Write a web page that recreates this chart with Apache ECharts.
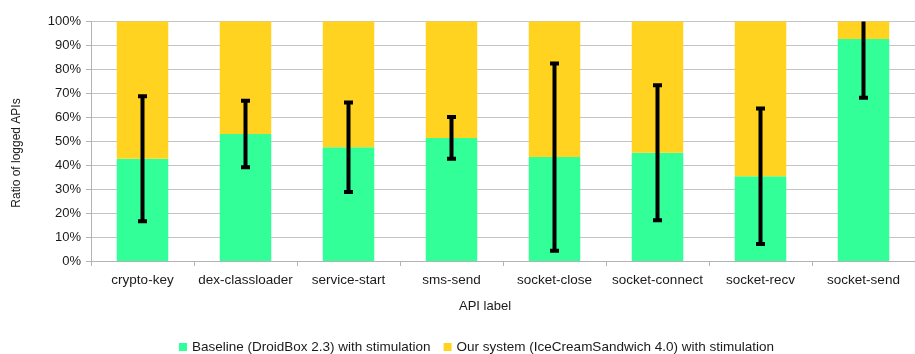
<!DOCTYPE html>
<html>
<head>
<meta charset="utf-8">
<script src="https://cdn.jsdelivr.net/npm/echarts@6/dist/echarts.min.js"></script>
<style>
  html, body { margin: 0; padding: 0; background: #fff; }
  #chart { width: 915px; height: 354px; }
</style>
</head>
<body>
<div id="chart"></div>
<script>
// API labels on the category axis
const apiLabels = ['crypto-key', 'dex-classloader', 'service-start', 'sms-send',
  'socket-close', 'socket-connect', 'socket-recv', 'socket-send'];

// Share of logged APIs (%) per system
const baseline = [42.7, 53.0, 47.5, 51.4, 43.4, 45.2, 35.4, 92.7];
const ourSystem = [57.3, 47.0, 52.5, 48.6, 56.6, 54.8, 64.6, 7.3];

// Half-width of the error bar around the baseline share (%)
const errorHalf = [26.1, 13.9, 18.7, 8.7, 39.1, 28.2, 28.3, 24.5];

// Y axis ticks
const yTicks = [0, 10, 20, 30, 40, 50, 60, 70, 80, 90, 100];

const seriesNames = ['Baseline (DroidBox 2.3) with stimulation',
  'Our system (IceCreamSandwich 4.0) with stimulation'];

const FONT = '"Liberation Sans", Arial, sans-serif';
const TEXT = '#1a1a1a';
const GRID_GRAY = '#c4c4c4';

const errorData = baseline.map((v, i) => [i, v - errorHalf[i], v + errorHalf[i]]);

const chart = echarts.init(document.getElementById('chart'), null, { renderer: 'canvas' });

chart.setOption({
  animation: false,
  backgroundColor: '#fff',
  textStyle: { fontFamily: FONT },
  grid: { left: 91, top: 21.5, width: 834, bottom: 93, containLabel: false },
  legend: {
    left: 179, top: 340, padding: 0,
    icon: 'rect', itemWidth: 8, itemHeight: 8, itemGap: 13,
    textStyle: { fontFamily: FONT, fontSize: 13.5, color: TEXT },
    data: seriesNames
  },
  xAxis: {
    type: 'category',
    data: apiLabels,
    axisLine: { show: true, lineStyle: { color: '#b3b3b3', width: 1 } },
    axisTick: { show: true, length: 5, alignWithLabel: false, lineStyle: { color: '#b3b3b3' } },
    axisLabel: { margin: 12, fontSize: 13.5, color: TEXT, fontFamily: FONT, interval: 0 },
    splitLine: { show: false }
  },
  yAxis: {
    type: 'value',
    min: yTicks[0], max: yTicks[yTicks.length - 1], interval: yTicks[1] - yTicks[0],
    axisLine: { show: true, lineStyle: { color: '#b3b3b3', width: 1 } },
    axisTick: { show: true, length: 5, lineStyle: { color: '#b3b3b3' } },
    axisLabel: { margin: 10, fontSize: 13, color: TEXT, fontFamily: FONT, formatter: '{value}%' },
    splitLine: { show: true, lineStyle: { color: GRID_GRAY, width: 1 } }
  },
  graphic: [
    {
      type: 'text', x: 16.5, y: 153, rotation: Math.PI / 2,
      style: { text: 'Ratio of logged APIs', fontSize: 12, fontFamily: FONT, fill: TEXT,
        align: 'center', verticalAlign: 'middle' }
    },
    {
      type: 'text', x: 485, y: 306.5,
      style: { text: 'API label', fontSize: 13, fontFamily: FONT, fill: TEXT,
        align: 'center', verticalAlign: 'middle' }
    }
  ],
  series: [
    {
      name: seriesNames[0], type: 'bar', stack: 'share', barWidth: '50%',
      itemStyle: { color: '#33ff99' }, data: baseline
    },
    {
      name: seriesNames[1], type: 'bar', stack: 'share', barWidth: '50%',
      itemStyle: { color: '#ffd320' }, data: ourSystem
    },
    {
      name: 'error', type: 'custom', clip: true, z: 10,
      data: errorData,
      encode: { x: 0, y: [1, 2] },
      renderItem: function (params, api) {
        const x = api.value(0);
        const lo = api.coord([x, api.value(1)]);
        const hi = api.coord([x, api.value(2)]);
        const hw = 4.5, ch = 4;
        const style = { fill: '#000' };
        return {
          type: 'group',
          children: [
            { type: 'line', shape: { x1: lo[0], y1: lo[1], x2: hi[0], y2: hi[1] },
              style: { stroke: '#000', lineWidth: 4 } },
            { type: 'rect', shape: { x: hi[0] - hw, y: hi[1] - ch / 2, width: hw * 2, height: ch }, style: style },
            { type: 'rect', shape: { x: lo[0] - hw, y: lo[1] - ch / 2, width: hw * 2, height: ch }, style: style }
          ]
        };
      }
    }
  ]
});
</script>
</body>
</html>
